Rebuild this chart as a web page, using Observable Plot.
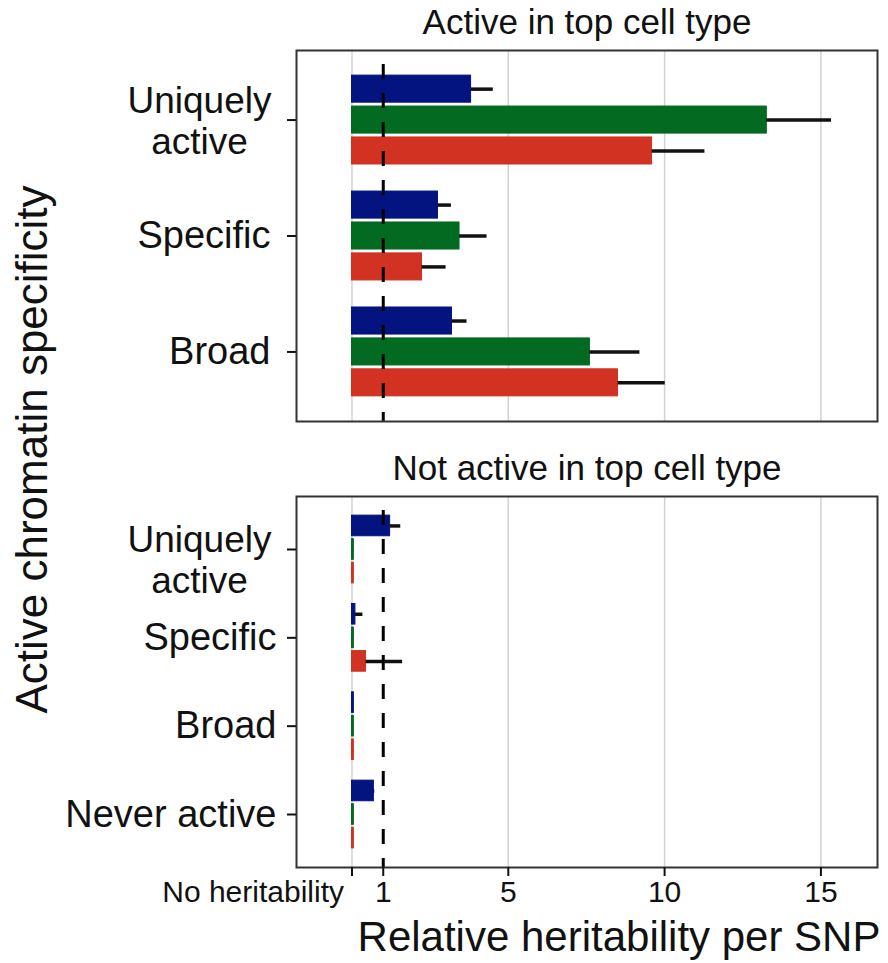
<!DOCTYPE html>
<html>
<head>
<meta charset="utf-8">
<script src="https://cdn.jsdelivr.net/npm/d3@7"></script>
<script src="https://cdn.jsdelivr.net/npm/@observablehq/plot@0.6"></script>
<style>
  body { margin: 0; background: #fff; }
  #wrap { position: relative; width: 888px; height: 963px; color: #111; font-family: "Liberation Sans", Arial, Helvetica, sans-serif; }
  #wrap > svg { display: block; }
</style>
</head>
<body>
<div id="wrap"></div>
<script>
// ---------- data ----------
const topTitle = "Active in top cell type";
const bottomTitle = "Not active in top cell type";
const yTitle = "Active chromatin specificity";
const xTitle = "Relative heritability per SNP";

const topCategories = ["Uniquely\nactive", "Specific", "Broad"];
const bottomCategories = ["Uniquely\nactive", "Specific", "Broad", "Never active"];

const seriesNames = ["Series 1", "Series 2", "Series 3"];
const seriesColors = ["#03137f", "#026a21", "#d13221"];

// top panel: bar value and upper end of error bar, per category
const topBlue = [3.81, 2.75, 3.20];
const topBlueHi = [4.52, 3.18, 3.68];
const topGreen = [13.27, 3.44, 7.61];
const topGreenHi = [15.34, 4.32, 9.21];
const topRed = [9.60, 2.24, 8.51];
const topRedHi = [11.29, 3.01, 10.02];

// bottom panel
const botBlue = [1.22, 0.11, 0.06, 0.70];
const botBlueHi = [1.56, 0.35, null, 0.73];
const botGreen = [0.06, 0.06, 0.06, 0.06];
const botGreenHi = [null, null, null, null];
const botRed = [0.06, 0.45, 0.06, 0.06];
const botRedHi = [null, 1.62, null, null];

const xTicks = [0, 1, 5, 10, 15];
const xTickLabels = ["No heritability", "1", "5", "10", "15"];
const xGrid = [0, 5, 10, 15];
const refLine = 1;
const xDomain = [-1.775, 16.81];

// ---------- helpers ----------
const FONT = '"Liberation Sans", Arial, Helvetica, sans-serif';
const dodge = 0.8 / 3;
const barH = 0.7 / 3;

function makeRows(cats, vals, his) {
  return cats.flatMap((c, i) => seriesNames.map((s, j) => ({
    cat: c, ci: i, j, series: s, value: vals[j][i], upper: his[j][i]
  })));
}

function panel({cats, rows, title, height, marginTop, marginBottom, labelPad, uDy, withX}) {
  const marks = [
    Plot.gridX(xGrid, {stroke: "#d2d2d2", strokeOpacity: 1, strokeWidth: 1.5}),
    Plot.rect(rows, {
      x1: 0, x2: "value",
      y1: d => d.ci + (d.j - 1) * dodge - barH / 2,
      y2: d => d.ci + (d.j - 1) * dodge + barH / 2,
      fill: "series", stroke: "series", strokeWidth: 1
    }),
    Plot.ruleY(rows.filter(d => d.upper != null), {
      x1: "value", x2: "upper",
      y: d => d.ci + (d.j - 1) * dodge,
      stroke: "#111", strokeWidth: 3.5
    }),
    Plot.ruleX([refLine], {stroke: "#000", strokeWidth: 3, strokeDasharray: "15,14", strokeDashoffset: 15}),
    Plot.frame({stroke: "#333", strokeWidth: 2}),
    Plot.axisY({
      ticks: d3.range(cats.length), tickSize: 9, tickPadding: labelPad, strokeWidth: 2,
      tickFormat: i => (cats[i].includes("\n") ? "" : cats[i]),
      fontSize: 38, label: null
    }),
    Plot.text(d3.range(cats.length).filter(i => cats[i].includes("\n")), {
      y: d => d, text: d => cats[d], frameAnchor: "left", dx: -97, dy: uDy,
      textAnchor: "middle", lineAnchor: "middle", lineHeight: 1.12, fontSize: 37
    }),
    Plot.text([title], {frameAnchor: "top", dy: -17, lineAnchor: "bottom", fontSize: 35})
  ];
  if (withX) {
    marks.push(
      Plot.axisX({
        ticks: xTicks, tickSize: 9, tickPadding: 4, strokeWidth: 2, fontSize: 30,
        tickFormat: d => (d === 0 ? "" : xTickLabels[xTicks.indexOf(d)]), label: null
      }),
      Plot.text([0], {
        x: d => d, text: d => xTickLabels[xTicks.indexOf(d)], frameAnchor: "bottom",
        dy: 13, dx: -8, lineAnchor: "top", textAnchor: "end", fontSize: 30
      }),
      Plot.text([xTitle], {frameAnchor: "bottom", dy: 83, dx: 32, lineAnchor: "bottom", fontSize: 42})
    );
  }
  return Plot.plot({
    width: 888,
    height,
    marginLeft: 296,
    marginRight: 11,
    marginTop,
    marginBottom,
    style: {fontFamily: FONT, color: "#111", background: "white", overflow: "visible"},
    x: {domain: xDomain, axis: withX ? undefined : null},
    y: {domain: [-0.6, cats.length - 0.4], reverse: true},
    color: {domain: seriesNames, range: seriesColors},
    marks
  });
}

const topRows = makeRows(topCategories, [topBlue, topGreen, topRed], [topBlueHi, topGreenHi, topRedHi]);
const botRows = makeRows(bottomCategories, [botBlue, botGreen, botRed], [botBlueHi, botGreenHi, botRedHi]);

const wrap = document.getElementById("wrap");
wrap.appendChild(panel({
  cats: topCategories, rows: topRows, title: topTitle,
  height: 430, marginTop: 50, marginBottom: 9, labelPad: 17, uDy: 0, withX: false
}));
wrap.appendChild(panel({
  cats: bottomCategories, rows: botRows, title: bottomTitle,
  height: 533, marginTop: 66, marginBottom: 96, labelPad: 11, uDy: 10, withX: true
}));

// rotated y-axis title spanning both panels
const ysvg = d3.create("svg")
  .attr("width", 70).attr("height", 963)
  .style("position", "absolute").style("left", "0px").style("top", "0px");
ysvg.append("text")
  .attr("transform", "translate(47,449.5) rotate(-90)")
  .attr("text-anchor", "middle")
  .attr("font-family", FONT)
  .attr("font-size", 44)
  .attr("fill", "#111")
  .text(yTitle);
wrap.appendChild(ysvg.node());
</script>
</body>
</html>
